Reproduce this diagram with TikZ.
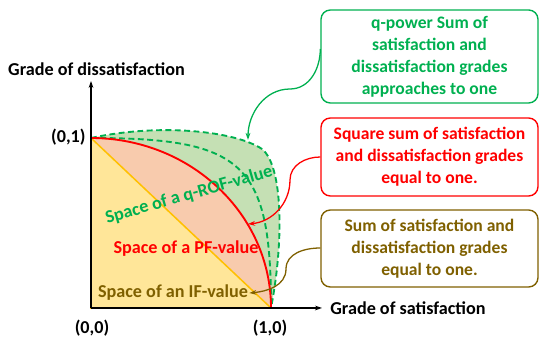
\documentclass[tikz,border=0pt]{standalone}
\usepackage{fontspec}
\setmainfont{Carlito}
\usepackage{tikz}
\usetikzlibrary{shapes, positioning, arrows.meta}

\definecolor{qgreen}{HTML}{00B050}
\definecolor{qfill}{HTML}{C5E0B4}
\definecolor{pfill}{HTML}{F8CBAD}
\definecolor{ifill}{HTML}{FFE699}
\definecolor{iedge}{HTML}{FFC000}
\definecolor{ifbrown}{HTML}{7F6000}

\tikzset{
    lbl/.style={font=\fontsize{15.5}{18}\selectfont\bfseries, inner sep=1pt},
    infobox/.style={draw, line width=1.2pt, rounded corners=8pt, align=center,
        minimum width=6.51cm, inner sep=2pt, font=\fontsize{15}{18.7}\selectfont\bfseries},
    pointer/.style={line width=1.1pt, -{Stealth[length=6pt, width=4pt]}},
    qdash/.style={qgreen, line width=1.6pt, dash pattern=on 5pt off 3pt}
}

\begin{document}
\begin{tikzpicture}[x=0.03cm, y=0.03cm]
    \useasboundingbox (0,0) rectangle (550,341);

    % Define the corners of the unit square and the axis ends
    \coordinate (O) at (91,33);
    \coordinate (X) at (271,33);
    \coordinate (Y) at (91,203);
    \coordinate (Xend) at (322,33);
    \coordinate (Yend) at (91,260);

    % Fill the three spaces, the largest one first
    \fill[qfill] (Y) .. controls (160,218) and (235,210) .. (262,192)
        .. controls (283,175) and (284,100) .. (X) -- (O) -- cycle;
    \fill[pfill] (Y) arc[start angle=90, end angle=0, x radius=180, y radius=170] -- (O) -- cycle;
    \filldraw[fill=ifill, draw=iedge, line width=1.3pt] (O) -- (X) -- (Y) -- cycle;

    % Draw the boundary curves
    \draw[qdash] (Y) .. controls (160,218) and (235,210) .. (262,192)
        .. controls (283,175) and (284,100) .. (X);
    \draw[qdash] (Y) .. controls (244,203) and (271,178) .. (X);
    \draw[red, line width=1.6pt] (Y) arc[start angle=90, end angle=0, x radius=180, y radius=170];

    % Draw the two axes
    \draw[line width=1.1pt, -{Stealth[length=6pt, width=4pt]}] (O) -- (Xend);
    \draw[line width=1.1pt, -{Stealth[length=6pt, width=4pt]}] (O) -- (Yend);

    % Axis labels and corner values
    \node[lbl] (ylab) at (96.5,272) {Grade of dissatisfaction};
    \node[lbl, anchor=west] (xlab) at (329,33) {Grade of satisfaction};
    \node[lbl, anchor=east] (p01) at (87,204) {(0,1)};
    \node[lbl] (p00) at (92,13) {(0,0)};
    \node[lbl] (p10) at (270,13) {(1,0)};

    % Names of the spaces
    \node[lbl, qgreen, rotate=16] (qrof) at (189,146) {Space of a q-ROF-value};
    \node[lbl, red] (pf) at (186,92) {Space of a PF-value};
    \node[lbl, ifbrown] (ifv) at (173,48) {Space of an IF-value};

    % Boxes on the right
    \node[infobox, qgreen, minimum height=2.79cm] (qbox) at (429.5,284.5)
        {q-power Sum of\\satisfaction and\\dissatisfaction grades\\approaches to one};
    \node[infobox, red, minimum height=2.34cm] (pbox) at (429.5,184)
        {Square sum of satisfaction\\and dissatisfaction grades\\equal to one.};
    \node[infobox, ifbrown, minimum height=2.31cm] (ibox) at (429.5,92.5)
        {Sum of satisfaction and\\dissatisfaction grades\\equal to one.};

    % Points that the pointers end on
    \coordinate (qtip) at (248,201);
    \coordinate (ptip) at (248,117);

    % Pointers from the boxes
    \draw[pointer, qgreen] (qbox.west |- 0,292) to[out=-90, in=0] (290,252) to[out=180, in=90] (qtip);
    \draw[pointer, red] (pbox.west |- 0,184) to[out=180, in=90] (290,161) to[out=-90, in=5] (ptip);
    \draw[pointer, ifbrown] (ibox.west |- 0,93) to[out=180, in=90] (286,72) to[out=-90, in=5] (ifv.east);
\end{tikzpicture}
\end{document}
